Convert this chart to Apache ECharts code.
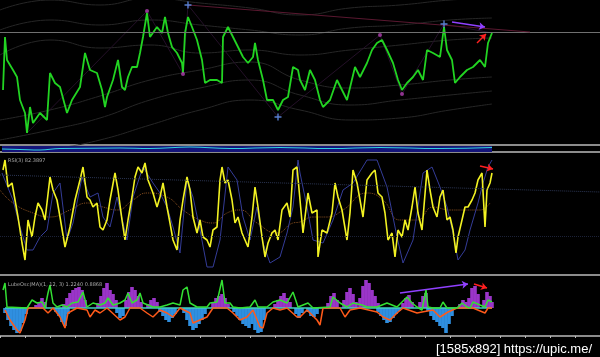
<!DOCTYPE html>
<html><head><meta charset="utf-8">
<script src="https://cdn.jsdelivr.net/npm/echarts@6/dist/echarts.min.js"></script>
<style>html,body{margin:0;padding:0;background:#000}#c{width:600px;height:357px}</style>
</head><body><div id="c"></div>
<script>
// ---- price panel (bar index, level above panel low) ----
const price = [[3,53],[5,106],[7,83],[13,73],[17,66],[20,43],[25,30],[27,10],[30,36],[33,20],[40,30],[47,23],[50,70],[55,60],[60,56],[67,30],[72,43],[80,56],[85,90],[90,73],[97,70],[102,53],[105,36],[107,46],[113,63],[118,83],[122,56],[125,53],[128,66],[132,76],[137,76],[140,90],[143,106],[147,130],[150,106],[157,116],[162,110],[165,126],[168,110],[172,96],[177,90],[182,80],[183,70],[185,110],[188,126],[192,116],[197,103],[202,83],[205,60],[210,63],[217,63],[222,60],[223,106],[228,116],[233,106],[238,96],[243,86],[248,80],[253,86],[255,100],[258,83],[263,63],[267,43],[273,43],[278,33],[283,43],[288,46],[293,76],[298,73],[300,63],[305,53],[310,73],[315,63],[320,43],[323,36],[330,43],[337,63],[342,53],[347,43],[355,76],[360,66],[367,80],[372,93],[377,100],[382,103],[387,93],[393,80],[398,63],[402,53],[407,60],[413,66],[418,73],[423,63],[427,93],[433,90],[440,86],[444,116],[447,93],[452,83],[455,60],[460,66],[467,73],[473,76],[480,83],[485,76],[488,100],[492,110]];
const bandL3 = [[0,-17],[50,-7],[100,3],[150,18],[200,33],[250,43],[300,33],[350,23],[400,25],[450,33],[492,39]];
const bandL2 = [[0,3],[50,13],[100,25],[150,43],[200,55],[250,63],[300,48],[350,38],[400,43],[450,48],[492,52]];
const bandL1 = [[0,23],[50,33],[100,47],[150,63],[200,73],[250,81],[300,63],[350,55],[400,58],[450,63],[492,66]];
const bandU1 = [[0,88],[50,103],[100,95],[150,98],[200,90],[250,93],[300,88],[350,93],[400,98],[450,103],[492,105]];
const bandU2 = [[0,113],[50,123],[100,118],[150,123],[200,118],[250,113],[300,108],[350,115],[400,118],[450,123],[492,125]];
const bandU3 = [[0,133],[50,143],[100,138],[150,145],[200,140],[250,135],[300,128],[350,135],[400,138],[450,143],[492,145]];
const zigzag = [[27,10],[147,132],[183,69],[188,138],[278,26],[380,108],[402,49],[444,119],[492,110]];
const resistLevel = 111;
const trendLine = [[188,138],[530,111]];
const pivotMarks = [[147,132],[183,69],[380,108],[402,49]];
const crossMarks = [[188,138],[278,26],[444,119]];
const arrowPurple = [[452,121],[485,116]];
const arrowRed = [[477,100],[486,109]];
// ---- strip indicator ----
const stripCyan = [[2,3],[20,2.5],[40,2],[60,3.5],[120,4],[150,3.5],[190,5],[230,3.5],[280,4.5],[330,3.5],[380,4.5],[440,3.5],[492,4.5]];
const stripBand = [[2,6],[492,6]];
// ---- RSI panel ----
const rsiFast = [[3,105],[5,115],[8,88],[12,92],[15,75],[18,58],[22,32],[25,15],[28,55],[32,38],[35,58],[38,72],[42,65],[45,55],[50,98],[53,85],[57,75],[60,58],[65,28],[70,48],[75,75],[80,95],[83,108],[87,78],[90,75],[93,68],[97,72],[100,48],[103,45],[107,55],[110,75],[115,102],[118,85],[122,55],[125,35],[128,55],[132,78],[135,98],[138,108],[142,102],[145,112],[148,95],[153,82],[157,68],[160,78],[163,92],[167,68],[170,52],[173,35],[177,25],[180,55],[183,75],[187,98],[190,85],[193,58],[197,42],[200,55],[203,38],[207,35],[210,28],[213,45],[217,48],[220,95],[222,108],[225,92],[228,95],[232,75],[235,52],[238,58],[242,42],[245,35],[248,28],[252,58],[255,88],[258,68],[262,38],[265,18],[268,32],[272,42],[275,45],[278,35],[282,65],[287,72],[290,58],[293,105],[297,108],[300,75],[303,42],[308,82],[312,62],[317,65],[318,18],[322,45],[327,42],[332,62],[335,92],[338,78],[342,65],[347,35],[350,62],[353,105],[357,92],[360,75],[363,58],[367,95],[372,102],[375,105],[378,82],[382,78],[385,62],[388,35],[392,42],[395,18],[398,45],[402,38],[405,55],[408,45],[412,68],[415,88],[418,62],[422,45],[427,105],[430,85],[433,68],[437,58],[440,78],[443,85],[447,55],[450,58],[453,45],[456,22],[458,38],[462,55],[465,68],[468,68],[472,75],[475,82],[478,95],[482,102],[485,48],[487,85],[490,92],[492,102]];
const rsiSlow = [[2,102],[13,75],[20,48],[27,25],[33,25],[40,38],[47,45],[53,82],[60,92],[67,35],[73,52],[82,98],[90,78],[98,82],[103,58],[110,48],[117,78],[127,35],[133,78],[143,108],[153,92],[160,82],[167,68],[173,48],[180,22],[187,95],[193,78],[200,45],[207,8],[213,8],[220,35],[228,108],[237,95],[243,58],[250,35],[257,68],[263,32],[270,12],[280,18],[287,42],[293,68],[298,115],[300,102],[307,68],[313,35],[323,32],[333,55],[343,85],[353,92],[367,115],[377,115],[387,88],[397,38],[403,12],[413,35],[423,102],[432,108],[440,88],[447,68],[453,42],[458,15],[465,25],[470,45],[478,72],[483,92],[488,108],[492,115]];
const rsiSignal = [[0,85],[13,72],[33,62],[50,58],[70,65],[87,72],[103,68],[117,65],[133,75],[147,82],[167,78],[183,65],[200,55],[213,52],[227,62],[240,65],[257,52],[277,42],[293,52],[300,53],[313,58],[327,58],[343,65],[367,82],[383,75],[400,55],[417,55],[433,68],[450,65],[467,65],[480,65],[490,72]];
const rsiTrend = [[0,100],[600,83]];
const rsiLevel = 39;
const rsiArrow = [[480,109],[493,106]];
// ---- oscillator panel ----
const oscFast = [[3,18],[5,25],[7,1],[27,0],[32,8],[37,5],[42,6],[45,0],[48,15],[50,23],[53,5],[57,1],[62,3],[67,1],[72,5],[78,6],[83,16],[87,1],[93,5],[100,3],[105,5],[108,10],[113,3],[120,5],[125,8],[128,15],[132,5],[137,8],[140,15],[143,5],[148,3],[153,1],[160,1],[167,3],[173,5],[180,3],[183,18],[187,21],[190,5],[197,1],[207,1],[210,5],[217,6],[222,28],[225,5],[230,5],[233,1],[240,0],[250,1],[255,8],[258,1],[267,1],[273,6],[280,8],[287,5],[293,16],[298,1],[308,5],[313,0],[330,1],[333,11],[340,5],[347,1],[353,5],[362,3],[367,1],[377,1],[387,5],[397,1],[407,11],[412,5],[417,1],[422,-2],[426,18],[428,1],[433,0],[440,0],[443,6],[447,0],[457,0],[462,5],[467,1],[470,0],[473,6],[480,3],[485,1],[488,8],[492,6]];
const oscSlow = [[5,-2],[10,-12],[17,-22],[20,-25],[25,-12],[28,0],[43,0],[48,-5],[53,0],[60,-9],[65,-20],[68,-5],[77,0],[87,-2],[90,-9],[95,-2],[100,-5],[107,0],[120,-12],[125,-9],[130,0],[140,0],[147,-5],[153,-9],[160,-2],[167,-5],[173,-9],[180,0],[190,-5],[193,-15],[200,-12],[207,-9],[213,0],[227,0],[233,-5],[240,-12],[247,-9],[253,-2],[260,-19],[263,-20],[267,-5],[273,0],[280,-2],[287,0],[297,-9],[300,-9],[307,-2],[317,-12],[320,-17],[323,0],[340,0],[345,-9],[350,-2],[360,0],[377,-4],[383,-9],[390,-12],[397,-5],[403,0],[417,-5],[422,-4],[433,-2],[440,-9],[448,-4],[457,0],[473,0],[485,-5],[488,0],[492,0]];
const histPos = [[36,3],[39,6],[42,10],[45,6],[64,4],[67,10],[70,15],[73,18],[76,20],[79,21],[82,18],[85,8],[98,5],[101,12],[104,20],[107,25],[110,18],[113,14],[116,8],[126,8],[129,16],[132,21],[135,18],[138,12],[141,6],[148,4],[151,8],[154,10],[157,6],[213,5],[216,10],[219,12],[222,14],[225,10],[228,4],[275,4],[278,8],[281,12],[284,15],[287,10],[290,6],[328,5],[331,12],[334,15],[337,8],[344,8],[347,16],[350,20],[353,14],[356,6],[360,10],[363,22],[366,28],[369,25],[372,18],[375,12],[378,5],[403,5],[406,10],[409,13],[412,6],[420,6],[423,12],[426,15],[460,4],[463,8],[466,6],[469,10],[472,20],[475,22],[478,14],[484,8],[487,16],[490,12],[492,6]];
const histNeg = [[5,-5],[8,-12],[11,-18],[14,-22],[17,-25],[20,-23],[23,-15],[26,-6],[56,-4],[59,-8],[62,-14],[65,-18],[68,-6],[117,-5],[120,-10],[123,-8],[160,-4],[163,-8],[166,-12],[169,-14],[172,-10],[175,-6],[184,-5],[187,-12],[190,-18],[193,-22],[196,-20],[199,-16],[202,-12],[205,-6],[234,-4],[237,-8],[240,-12],[243,-16],[246,-18],[249,-20],[252,-16],[255,-22],[258,-25],[261,-24],[264,-12],[296,-6],[299,-10],[302,-5],[308,-4],[311,-8],[314,-9],[317,-6],[378,-4],[381,-8],[384,-12],[387,-15],[390,-14],[393,-10],[396,-6],[399,-3],[428,-3],[431,-8],[434,-12],[437,-14],[440,-18],[443,-20],[446,-25],[449,-16],[452,-8]];
const oscZero = [[5,0],[492,0]];
const oscArrowPurple = [[400,15],[468,24]];
const oscArrowRed = [[474,24],[487,20]];

const sepColor = '#8c8c8c';
function xa(gi, showLine, pos){
  return {type:'value', gridIndex:gi, min:0, max:600, position:pos||'bottom',
    axisLine:{show:showLine, onZero:false, lineStyle:{color:sepColor, width:2}},
    axisTick:{show:false}, axisLabel:{show:false}, splitLine:{show:false}};
}
function ya(gi, mn, mx){
  return {type:'value', gridIndex:gi, min:mn, max:mx, show:false, splitLine:{show:false}};
}
function band(d){ return {type:'line', xAxisIndex:0, yAxisIndex:0, data:d, smooth:true, symbol:'none', silent:true,
  lineStyle:{color:'#262626', width:1}, z:1}; }
function arrow(d, color, xi, yi){
  return {type:'line', xAxisIndex:xi, yAxisIndex:yi, data:[], silent:true,
    markLine:{silent:true, symbol:['none','arrow'], symbolSize:6, label:{show:false},
      lineStyle:{color:color, width:1.5, type:'solid'},
      data:[[{coord:d[0]},{coord:d[1]}]]}, z:6};
}
const chart = echarts.init(document.getElementById('c'), null, {renderer:'canvas'});
const oscX = xa(3, true);
oscX.interval = 25;
oscX.axisTick = {show:true, length:2, lineStyle:{color:'#bbb'}};
chart.setOption({
  backgroundColor:'#000',
  animation:false,
  title:[
    {text:'RSI(3) 82.3897', left:3, top:153, textStyle:{color:'#aaa', fontSize:5, fontWeight:'normal', fontFamily:'DejaVu Sans'}},
    {text:'LubeOsc(MA)(1, 12, 3) 1.2240 0.8868', left:3, top:277, textStyle:{color:'#aaa', fontSize:5, fontWeight:'normal', fontFamily:'DejaVu Sans'}},
    {text:'[1585x892] https://upic.me/', right:3, top:338, textStyle:{color:'#fff', fontSize:13, fontWeight:'normal', fontFamily:'Liberation Sans'}}
  ],
  grid:[
    {left:0, right:0, top:0, height:145},
    {left:0, right:0, top:145, height:7},
    {left:0, right:0, top:152, height:123},
    {left:0, right:0, top:275, height:61}
  ],
  xAxis:[xa(0,true), xa(1,true), xa(2,true), oscX],
  yAxis:[ya(0,-2,143), ya(1,0,7), ya(2,0,123), ya(3,-28,33)],
  series:[
    band(bandL3), band(bandL2), band(bandL1), band(bandU1), band(bandU2), band(bandU3),
    {type:'line', xAxisIndex:0, yAxisIndex:0, data:zigzag, symbol:'none', silent:true, lineStyle:{color:'#241028', width:1}, z:2},
    {type:'line', xAxisIndex:0, yAxisIndex:0, data:[], silent:true,
      markLine:{silent:true, symbol:'none', label:{show:false}, lineStyle:{color:'#707070', width:1, type:'solid'},
        data:[{yAxis:resistLevel}, [{coord:trendLine[0], lineStyle:{color:'#5a1830'}},{coord:trendLine[1]}]]}},
    {type:'line', xAxisIndex:0, yAxisIndex:0, data:price, symbol:'none', lineStyle:{color:'#22d422', width:1.8}, z:4},
    {type:'scatter', xAxisIndex:0, yAxisIndex:0, data:pivotMarks, symbol:'circle', symbolSize:4, itemStyle:{color:'#b040b0'}, z:5},
    {type:'scatter', xAxisIndex:0, yAxisIndex:0, data:crossMarks, symbol:'path://M4 0h2v4h4v2h-4v4h-2v-4h-4v-2h4z', symbolSize:7, itemStyle:{color:'#6a9cff'}, z:5},
    arrow(arrowPurple, '#9040ff', 0, 0),
    arrow(arrowRed, '#ff2020', 0, 0),
    {type:'line', xAxisIndex:1, yAxisIndex:1, data:stripBand, symbol:'none', lineStyle:{width:0}, areaStyle:{color:'#14147a', opacity:1}},
    {type:'line', xAxisIndex:1, yAxisIndex:1, data:stripCyan, symbol:'none', smooth:true, lineStyle:{color:'#30d0e0', width:1.2}},
    {type:'line', xAxisIndex:2, yAxisIndex:2, data:[], silent:true,
      markLine:{silent:true, symbol:'none', label:{show:false}, lineStyle:{color:'#1c2238', width:1, type:'dotted'},
        data:[[{coord:rsiTrend[0], lineStyle:{color:'#2c3654'}},{coord:rsiTrend[1]}], {yAxis:rsiLevel}]}},
    {type:'line', xAxisIndex:2, yAxisIndex:2, data:rsiSignal, symbol:'none', smooth:true, lineStyle:{color:'#8a5020', width:1, type:'dotted'}, z:2},
    {type:'line', xAxisIndex:2, yAxisIndex:2, data:rsiSlow, symbol:'none', lineStyle:{color:'#343c98', width:1}, z:3},
    {type:'line', xAxisIndex:2, yAxisIndex:2, data:rsiFast, symbol:'none', lineStyle:{color:'#f2f222', width:1.6}, z:4},
    arrow(rsiArrow, '#ff2020', 2, 2),
    {type:'bar', xAxisIndex:3, yAxisIndex:3, data:histPos, barWidth:3.6, itemStyle:{color:'#9a35c8'}, barGap:'-100%', z:2},
    {type:'bar', xAxisIndex:3, yAxisIndex:3, data:histNeg, barWidth:3.6, itemStyle:{color:'#2f8fe0'}, barGap:'-100%', z:2},
    {type:'line', xAxisIndex:3, yAxisIndex:3, data:oscZero, symbol:'none', lineStyle:{color:'#40d0c0', width:1.5}, z:3},
    {type:'line', xAxisIndex:3, yAxisIndex:3, data:oscSlow, symbol:'none', lineStyle:{color:'#ff5a1a', width:1.5}, z:4},
    {type:'line', xAxisIndex:3, yAxisIndex:3, data:oscFast, symbol:'none', lineStyle:{color:'#33e033', width:1.5}, z:5},
    arrow(oscArrowPurple, '#9040ff', 3, 3),
    arrow(oscArrowRed, '#ff2020', 3, 3)
  ]
});
</script></body></html>
